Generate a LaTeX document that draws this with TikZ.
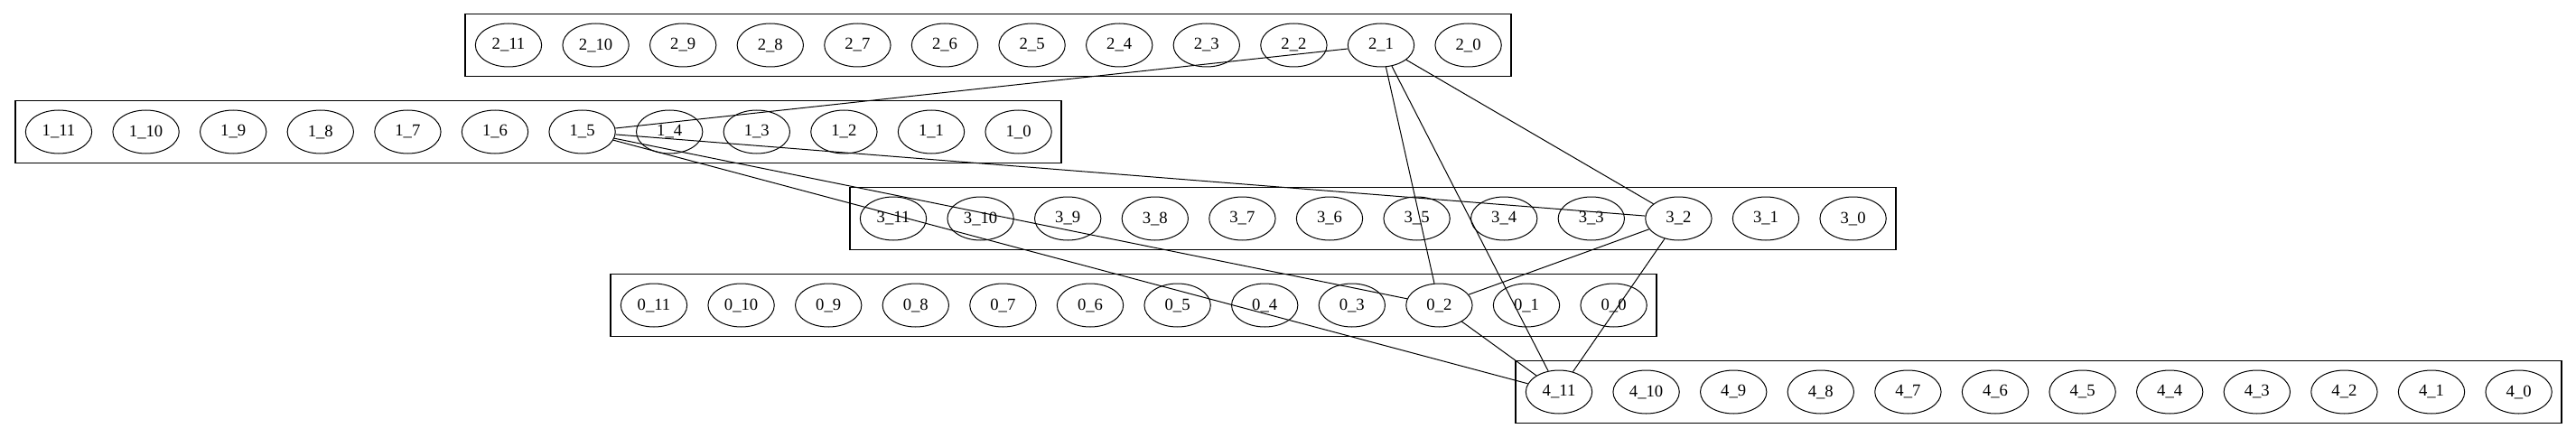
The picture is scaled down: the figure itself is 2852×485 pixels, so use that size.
\documentclass[tikz,border=0pt]{standalone}
\usepackage{fontspec}
\setmainfont{Liberation Serif}
\usepackage{tikz}
\usetikzlibrary{shapes}
\tikzstyle{vert}=[draw, ellipse, line width=0.75pt, inner sep=0pt, minimum width=55pt, minimum height=36pt, font=\fontsize{14}{16}\selectfont]
\tikzstyle{clusterbox}=[draw, line width=0.9pt]
\tikzstyle{link}=[line width=0.75pt]
% one rank: #1 rank, #2 left edge, #3 top edge
\newcommand{\rankRow}[3]{
	\draw[clusterbox] (#2,#3) rectangle ++(1158,69);
	\foreach \i [evaluate=\i as \xx using {#2+48+(11-\i)*96.6}] in {0,...,11} {
		\node[vert] (n#1-\i) at (\xx,#3+34.5) {#1\_\i};
	}
}

\begin{document}
\begin{tikzpicture}[x=0.75pt, y=-0.75pt]
	\useasboundingbox (0,0) rectangle (2852,485);
	\rankRow{2}{515}{15.5}
	\rankRow{1}{17}{111.5}
	\rankRow{3}{941}{207.5}
	\rankRow{0}{676}{303.5}
	\rankRow{4}{1678}{399.5}
	\draw[link] (n2-1) -- (n1-5);
	\draw[link] (n2-1) -- (n0-2);
	\draw[link] (n2-1) -- (n4-11);
	\draw[link] (n2-1) -- (n3-2);
	\draw[link] (n1-5) -- (n3-2);
	\draw[link] (n1-5) -- (n0-2);
	\draw[link] (n1-5) -- (n4-11);
	\draw[link] (n3-2) -- (n0-2);
	\draw[link] (n3-2) -- (n4-11);
	\draw[link] (n0-2) -- (n4-11);
\end{tikzpicture}
\end{document}
